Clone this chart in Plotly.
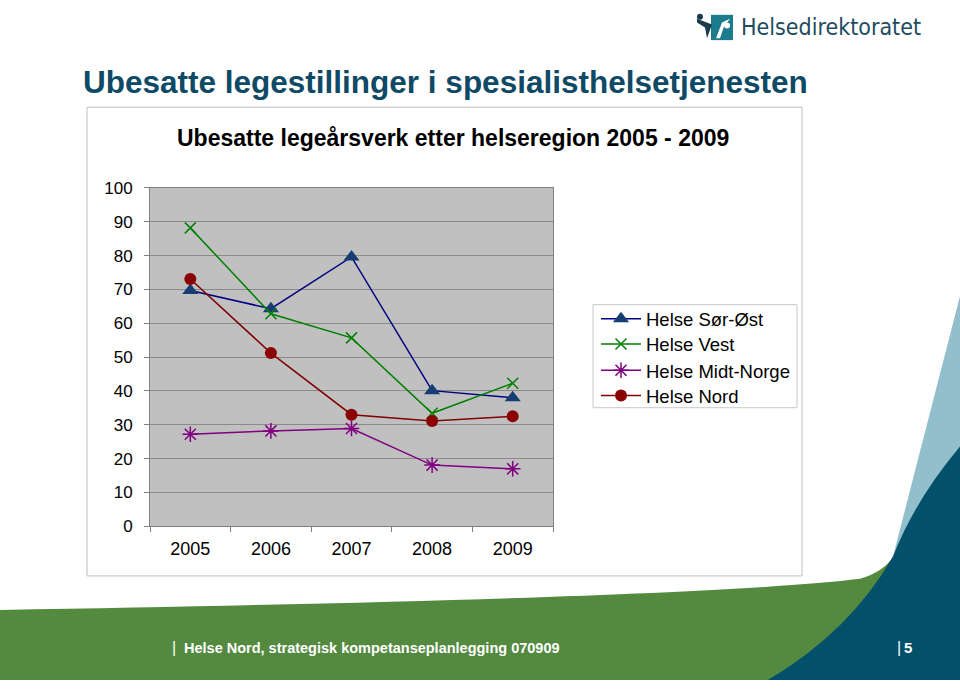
import plotly.graph_objects as go

W, H = 960, 690

years = ["2005", "2006", "2007", "2008", "2009"]
sor_ost = [69.7, 64.3, 79.6, 40.1, 38.0]
vest = [88.2, 62.8, 55.7, 33.4, 42.3]
midt_norge = [27.2, 28.2, 28.9, 18.1, 17.0]
nord = [73.1, 51.2, 33.0, 31.1, 32.5]

series_names = ["Helse Sør-Øst", "Helse Vest", "Helse Midt-Norge", "Helse Nord"]
y_ticks = list(range(0, 101, 10))

slide_title = "Ubesatte legestillinger i spesialisthelsetjenesten"
chart_title = "Ubesatte legeårsverk etter helseregion 2005 - 2009"
footer_text = "Helse Nord, strategisk kompetanseplanlegging 070909"
page_no = "5"


def px(x):
    return x / W


def py(y):
    return 1 - y / H


def path(cmds):
    out = []
    for c in cmds:
        if isinstance(c, str):
            out.append(c)
        else:
            out.append(f"{px(c[0]):.5f},{py(c[1]):.5f}")
    return " ".join(out)


FONT = "Liberation Sans, Arial, sans-serif"

styles = [
    dict(line=dict(color="#000080", width=1.5),
         marker=dict(symbol="triangle-up", size=14, color="#173E72")),
    dict(line=dict(color="#008000", width=1.5),
         marker=dict(symbol="x-thin-open", size=11, color="#008000",
                     line=dict(color="#008000", width=1.5))),
    dict(line=dict(color="#800080", width=1.5),
         marker=dict(symbol="asterisk-open", size=13, color="#800080",
                     line=dict(color="#800080", width=1.5))),
    dict(line=dict(color="#800000", width=1.5),
         marker=dict(symbol="circle", size=12, color="#8B0000")),
]

fig = go.Figure()
legend_ids = ["legend", "legend2", "legend3", "legend4"]
for name, vals, st, lg in zip(series_names, [sor_ost, vest, midt_norge, nord], styles, legend_ids):
    fig.add_trace(go.Scatter(x=years, y=vals, name=name, mode="lines+markers",
                             legend=lg, **st))

legend_rows = [319, 345, 372, 398]
legend_layout = {}
for lg, row in zip(legend_ids, legend_rows):
    legend_layout[lg] = dict(
        x=px(596), y=py(row), xanchor="left", yanchor="middle",
        bgcolor="rgba(0,0,0,0)", borderwidth=0,
        font=dict(family=FONT, size=18.5, color="#000000"),
        itemwidth=40, tracegroupgap=0,
    )

shapes = [
    # chart frame
    dict(type="rect", xref="paper", yref="paper", x0=px(87), x1=px(802), y0=py(583), y1=py(101),
         line=dict(color="#BEBEBE", width=1), fillcolor="rgba(0,0,0,0)", layer="below"),
    # legend frame
    dict(type="rect", xref="paper", yref="paper", x0=px(593), x1=px(797), y0=py(410), y1=py(304),
         line=dict(color="#C8C8C8", width=1), fillcolor="#FFFFFF", layer="below"),
    # light blue swoosh
    dict(type="path", xref="paper", yref="paper", layer="below",
         path=path(["M", (960, 295), "L", (893, 563), "L", (960, 690), "Z"]),
         fillcolor="#93BFCC", line=dict(width=0)),
    # green band
    dict(type="path", xref="paper", yref="paper", layer="below",
         path=path(["M", (0, 618), "Q", (700, 606), (860, 586), "Q", (885, 578), (893, 563),
                    "L", (893, 690), "L", (0, 690), "Z"]),
         fillcolor="#548A3F", line=dict(width=0)),
    # dark teal
    dict(type="path", xref="paper", yref="paper", layer="below",
         path=path(["M", (960, 450), "Q", (915, 505), (893, 563),
                    "Q", (850, 640), (768, 690), "L", (960, 690), "Z"]),
         fillcolor="#02506A", line=dict(width=0)),
    # logo icon
    dict(type="rect", xref="paper", yref="paper", x0=px(711), x1=px(733), y0=py(32), y1=py(6),
         fillcolor="#1C7C8E", line=dict(width=0), layer="below"),
    dict(type="path", xref="paper", yref="paper", layer="below",
         path=path(["M", (716, 30), "L", (722, 14), "L", (730, 10), "L", (724, 18), "L", (720, 30), "Z"]),
         fillcolor="#FFFFFF", line=dict(width=0)),
    dict(type="path", xref="paper", yref="paper", layer="below",
         path=path(["M", (697, 10), "L", (712, 16), "L", (707, 30), "L", (705, 19), "L", (697, 14), "Z"]),
         fillcolor="#1B3C4C", line=dict(width=0)),
    dict(type="circle", xref="paper", yref="paper", x0=px(697), x1=px(703), y0=py(11), y1=py(5),
         fillcolor="#1B3C4C", line=dict(width=0), layer="below"),
    dict(type="circle", xref="paper", yref="paper", x0=px(724), x1=px(730), y0=py(20), y1=py(14),
         fillcolor="#FFFFFF", line=dict(width=0), layer="below"),
]

annotations = [
    dict(text=slide_title, x=px(81), y=py(75), xref="paper", yref="paper", xanchor="left",
         yanchor="middle", showarrow=False,
         font=dict(family=FONT, size=31.5, color="#0E4A66", weight="bold")),
    dict(text=chart_title, x=px(453), y=py(133), xref="paper", yref="paper", xanchor="center",
         yanchor="middle", showarrow=False,
         font=dict(family=FONT, size=23, color="#000000", weight="bold")),
    dict(text="Helsedirektoratet", x=px(739), y=py(19), xref="paper", yref="paper",
         xanchor="left", yanchor="middle", showarrow=False,
         font=dict(family="Liberation Sans Narrow, DejaVu Sans Condensed, sans-serif", size=23,
                   color="#1D4C60")),
    dict(text="|", x=px(170), y=py(657), xref="paper", yref="paper", xanchor="left",
         yanchor="middle", showarrow=False,
         font=dict(family=FONT, size=16, color="#FFFFFF")),
    dict(text=footer_text, x=px(182), y=py(657), xref="paper", yref="paper", xanchor="left",
         yanchor="middle", showarrow=False,
         font=dict(family=FONT, size=14.5, color="#FFFFFF", weight="bold")),
    dict(text="|", x=px(895), y=py(657), xref="paper", yref="paper", xanchor="left",
         yanchor="middle", showarrow=False,
         font=dict(family=FONT, size=16, color="#FFFFFF")),
    dict(text=page_no, x=px(902), y=py(657), xref="paper", yref="paper", xanchor="left",
         yanchor="middle", showarrow=False,
         font=dict(family=FONT, size=15, color="#FFFFFF", weight="bold")),
]

fig.update_layout(
    width=W, height=H,
    margin=dict(l=0, r=0, t=0, b=0),
    paper_bgcolor="#FFFFFF",
    plot_bgcolor="#C0C0C0",
    showlegend=True,
    shapes=shapes,
    annotations=annotations,
    font=dict(family=FONT, size=17, color="#000000"),
    **legend_layout,
)

fig.update_xaxes(
    domain=[px(150), px(553)],
    type="category", range=[-0.5, 4.5],
    tickson="boundaries", ticks="outside", ticklen=5, tickcolor="#808080",
    showline=True, linecolor="#808080", linewidth=1, mirror=True,
    showgrid=False, zeroline=False,
    tickfont=dict(family=FONT, size=18, color="#000000"),
    ticklabelstandoff=6,
)
fig.update_yaxes(
    domain=[py(532), py(184)],
    range=[0, 100], tickvals=y_ticks,
    ticks="outside", ticklen=5, tickcolor="#808080",
    showline=True, linecolor="#808080", linewidth=1, mirror=True,
    showgrid=True, gridcolor="#8A8A8A", gridwidth=1, zeroline=False,
    tickfont=dict(family=FONT, size=17, color="#000000"),
    ticklabelstandoff=8,
)

fig.write_html("out.html")
